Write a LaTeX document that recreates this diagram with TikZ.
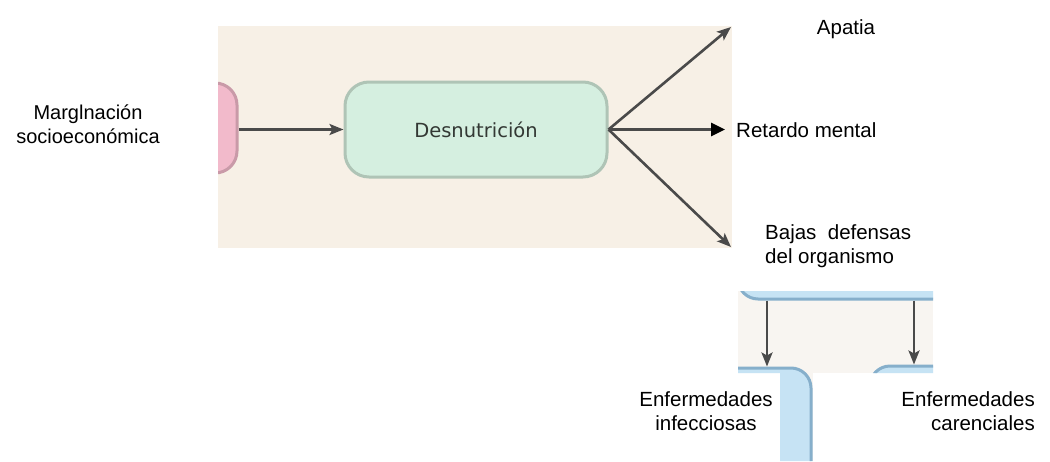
\documentclass[tikz,border=0pt]{standalone}
\usepackage{fontspec}
\setmainfont{Liberation Sans}
\newfontfamily\boxfont{DejaVu Sans}
\usetikzlibrary{arrows.meta}
\definecolor{beige}{HTML}{F7F0E6}
\definecolor{paper}{HTML}{F8F5F1}
\definecolor{pinkfill}{HTML}{F2BACB}
\definecolor{pinkedge}{HTML}{C99AA8}
\definecolor{greenfill}{HTML}{D5EFE0}
\definecolor{greenedge}{HTML}{AFC4B6}
\definecolor{bluefill}{HTML}{C6E3F4}
\definecolor{blueedge}{HTML}{86AFCB}
\definecolor{arrowgrey}{HTML}{4A4A4A}
\definecolor{boxtext}{HTML}{333834}
\tikzset{
  lbl/.style={inner sep=0pt, font=\fontsize{20.5}{24}\selectfont, text=black},
  pinkbox/.style={draw=pinkedge, line width=3pt, fill=pinkfill, rounded corners=22pt, inner sep=0pt},
  greenbox/.style={draw=greenedge, line width=3pt, fill=greenfill, rounded corners=24pt, inner sep=0pt,
    font=\boxfont\fontsize{19.5}{23}\selectfont, text=boxtext},
  bluebox/.style={draw=blueedge, line width=3pt, fill=bluefill, rounded corners=20pt, inner sep=0pt},
  arr/.style={draw=arrowgrey, line width=2.6pt, -{Stealth[length=14pt,width=11pt,inset=3pt]}},
  blackarr/.style={draw=arrowgrey, line width=2.6pt, -{Triangle[length=14pt,width=13pt,fill=black,color=black]}}
}
\begin{document}
\begin{tikzpicture}[x=1pt,y=-1pt]
\useasboundingbox (0,0) rectangle (1050,461);
\fill[white] (0,0) rectangle (1050,461);

% first scanned patch
\fill[beige] (218,26) rectangle (732,248);
\begin{scope}
  \clip (218,26) rectangle (732,248);
  \node[pinkbox, minimum width=140pt, minimum height=90pt] (pink) at (167,128) {};
  \node[greenbox, minimum width=262pt, minimum height=95pt] (green) at (476,129.5) {Desnutrición};
  \coordinate (apend) at (731,27);
  \coordinate (bdend) at (731,247);
  \draw[arr] (pink.east |- green.west) -- (green.west);
  \draw[arr] (green.east) -- (apend);
  \draw[arr] (green.east) -- (bdend);
\end{scope}

% labels
\node[lbl, anchor=base] (apatia) at (846,34) {Apatia};
\node[lbl, anchor=base west] (retardo) at (736,137) {Retardo mental};
\draw[blackarr, shorten >=11pt] (green.east) -- (retardo.west |- green.east);
\node[lbl, anchor=base, align=center, font=\fontsize{20}{24}\selectfont] (margin) at (88,143) {Marglnación\\socioeconómica};
\node[lbl, anchor=base west, align=left] (bajas) at (765,263) {Bajas\ \ defensas\\del organismo};
\node[lbl, anchor=base, align=center] (infec) at (706,430) {Enfermedades\\infecciosas};
\node[lbl, anchor=base east, align=right] (caren) at (1035,430) {Enfermedades\\carenciales};

% second scanned patch
\fill[paper] (738,291) rectangle (933,373);
\fill[paper] (780,373) rectangle (813,461);
\begin{scope}
  \clip (738,291) rectangle (933,373) (780,373) rectangle (813,461);
  \node[bluebox, minimum width=240pt, minimum height=60pt] (defbox) at (858,269) {};
  \node[bluebox, minimum width=200pt, minimum height=140pt] (infbox) at (711,438) {};
  \node[bluebox, minimum width=160pt, minimum height=140pt] (carbox) at (950,436) {};
  \draw[arr] (defbox.south -| 767,0) -- (infbox.north -| 767,0);
  \draw[arr] (defbox.south -| 914,0) -- (carbox.north -| 914,0);
\end{scope}
\end{tikzpicture}
\end{document}
